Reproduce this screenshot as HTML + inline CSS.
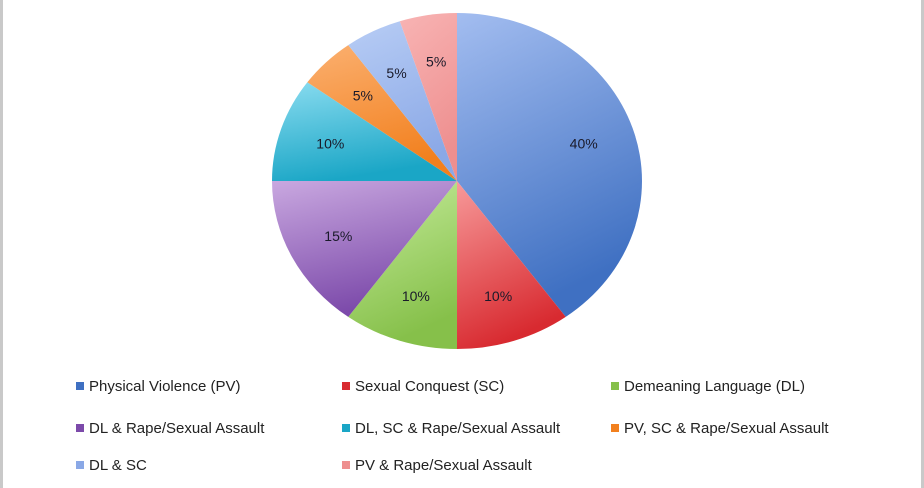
<!DOCTYPE html>
<html><head><meta charset="utf-8"><style>
body{margin:0;background:#fff;}
#wrap{position:relative;width:924px;height:488px;overflow:hidden;background:#fff;font-family:"Liberation Sans",sans-serif;}
.frame{position:absolute;top:0;bottom:0;width:3px;background:#c9c9c9;}
.leg{position:absolute;font-size:15px;color:#222;white-space:nowrap;}
.leg span.m{display:inline-block;width:8px;height:8px;margin-right:5px;vertical-align:1px;}
</style></head><body>
<div id="wrap">
<div class="frame" style="left:0"></div>
<div class="frame" style="right:0"></div>
<svg id="pie" width="924" height="488" style="position:absolute;left:0;top:0">
<defs id="defs"></defs>
<g id="slices"></g><g id="labels"></g>
</svg>
<div id="legend"></div>
</div>
<script>
const categories=["Physical Violence (PV)","Sexual Conquest (SC)","Demeaning Language (DL)","DL & Rape/Sexual Assault","DL, SC & Rape/Sexual Assault","PV, SC & Rape/Sexual Assault","DL & SC","PV & Rape/Sexual Assault"];
const values=[40,10,10,15,10,5,5,5];
const valueLabels=["40%","10%","10%","15%","10%","5%","5%","5%"];
const colorsLight=["#a3bdf0","#f79a9a","#c6ec9c","#c9a8e0","#8adcf0","#fbb070","#b8cdf5","#f8b4b4"];
const colorsDark=["#3f70c2","#d82a30","#86c04a","#7c4aaa","#1aa6c6","#f2801e","#8aa8e6","#ee8f8f"];
const cx=457,cy=181,rx=185,ry=168;
const ns="http://www.w3.org/2000/svg";
const total=values.reduce((a,b)=>a+b,0);
const defs=document.getElementById('defs'),gS=document.getElementById('slices'),gL=document.getElementById('labels');
function pt(a,f){return [cx+rx*f*Math.sin(a),cy-ry*f*Math.cos(a)];}
let acc=0;
values.forEach((v,i)=>{
  const a0=acc/total*2*Math.PI;acc+=v;const a1=acc/total*2*Math.PI;
  const lg=document.createElementNS(ns,'linearGradient');
  lg.setAttribute('id','g'+i);lg.setAttribute('x1','0');lg.setAttribute('y1','0');lg.setAttribute('x2','0.3');lg.setAttribute('y2','1');
  lg.innerHTML=`<stop offset="0" stop-color="${colorsLight[i]}"/><stop offset="1" stop-color="${colorsDark[i]}"/>`;
  defs.appendChild(lg);
  const p0=pt(a0,1),p1=pt(a1,1);
  const large=(a1-a0)>Math.PI?1:0;
  const path=document.createElementNS(ns,'path');
  path.setAttribute('d',`M${cx},${cy}L${p0[0]},${p0[1]}A${rx},${ry} 0 ${large} 1 ${p1[0]},${p1[1]}Z`);
  path.setAttribute('fill',`url(#g${i})`);
  
  
  gS.appendChild(path);
  const am=(a0+a1)/2;const lp=pt(am,0.72);
  const t=document.createElementNS(ns,'text');
  t.setAttribute('x',lp[0]);t.setAttribute('y',lp[1]+5);
  t.setAttribute('text-anchor','middle');t.setAttribute('font-size','14');
  t.setAttribute('font-family','Liberation Sans, sans-serif');t.setAttribute('fill','#1a1a2a');
  t.textContent=valueLabels[i];
  
  
  gL.appendChild(t);
});
const legend=document.getElementById('legend');
const colX=[76,342,611],rowY=[378,420,457];
categories.forEach((c,i)=>{
  const d=document.createElement('div');d.className='leg';
  d.style.left=colX[i%3]+'px';d.style.top=rowY[Math.floor(i/3)]+'px';
  d.innerHTML=`<span class="m" style="background:${colorsDark[i]}"></span>`;
  d.appendChild(document.createTextNode(c));
  
  
  legend.appendChild(d);
});
</script>
</body></html>
